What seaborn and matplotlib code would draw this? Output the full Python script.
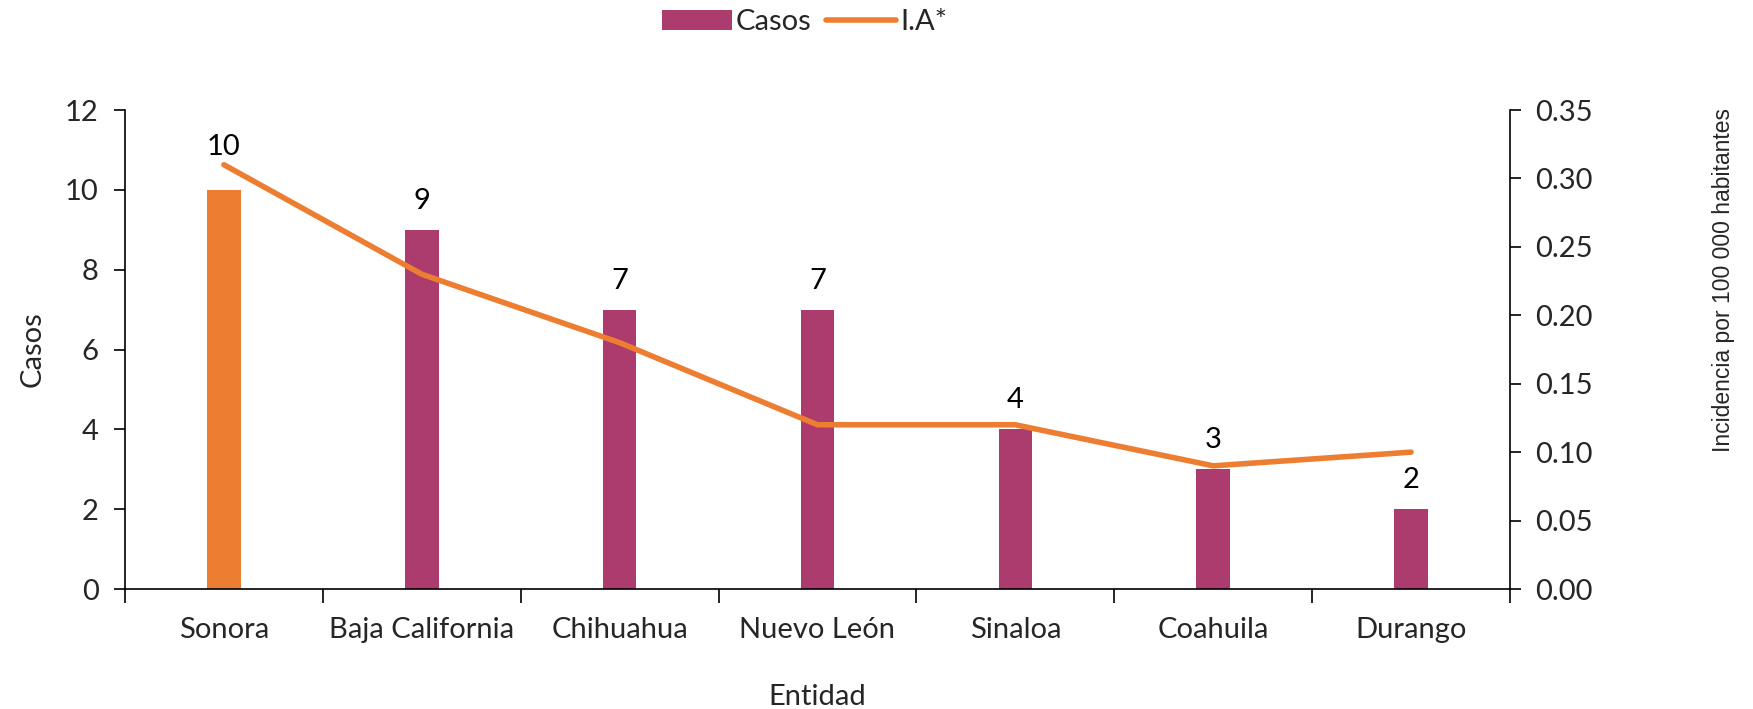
import numpy as np
import matplotlib
matplotlib.use("Agg")
import matplotlib.pyplot as plt
from matplotlib.patches import Patch
from matplotlib.lines import Line2D
from matplotlib.ticker import FixedLocator
import seaborn as sns

entidades = ["Sonora", "Baja California", "Chihuahua", "Nuevo León", "Sinaloa", "Coahuila", "Durango"]
casos = [10, 9, 7, 7, 4, 3, 2]
ia = [0.31, 0.23, 0.18, 0.12, 0.12, 0.09, 0.10]
left_ticks = [0, 2, 4, 6, 8, 10, 12]
right_ticks = [0.00, 0.05, 0.10, 0.15, 0.20, 0.25, 0.30, 0.35]

PURPLE = "#AD3C6E"
ORANGE = "#ED7D31"
bar_colors = [ORANGE] + [PURPLE] * (len(entidades) - 1)

sns.set_theme(style="white")
plt.rcParams["font.family"] = ["Lato", "DejaVu Sans"]

fig = plt.figure(figsize=(17.53, 7.09), dpi=100)
ax = fig.add_axes([125/1753, 1-589/709, (1510-125)/1753, (589-110)/709])

sns.barplot(x=entidades, y=casos, hue=entidades, palette=bar_colors, legend=False,
            width=0.17, ax=ax, saturation=1, edgecolor="none")

fs = 21
for i, v in enumerate(casos):
    off = 0.75 if i == 0 else 0.4
    ax.text(i, v + off, str(v), ha="center", va="bottom", fontsize=fs, color="black")

ax.set_ylim(0, 12)
ax.set_xlim(-0.5, len(entidades) - 0.5)
ax.set_yticks(left_ticks)
ax.set_yticklabels([str(t) for t in left_ticks], fontsize=fs)
ax.tick_params(axis="y", direction="out", length=8, width=1.2, color="black", left=True, pad=11)
ax.tick_params(axis="x", which="major", length=0, labelsize=fs, pad=20)
ax.xaxis.set_minor_locator(FixedLocator(np.arange(-0.5, len(entidades), 1.0)))
ax.tick_params(axis="x", which="minor", direction="out", length=10, width=1.2, color="black", bottom=True)
for s in ["top", "right"]:
    ax.spines[s].set_visible(False)
for s in ["left", "bottom"]:
    ax.spines[s].set_color("black")
    ax.spines[s].set_linewidth(1.2)
ax.set_xlabel("Entidad", fontsize=fs, labelpad=30)
ax.set_ylabel("Casos", fontsize=fs, labelpad=14)

ax2 = ax.twinx()
xpos = np.arange(len(entidades))
sns.lineplot(x=xpos, y=ia, color=ORANGE, linewidth=4, ax=ax2, solid_capstyle="round")
ax2.set_ylim(0, 0.35)
ax2.set_yticks(right_ticks)
ax2.set_yticklabels([f"{t:.2f}" for t in right_ticks], fontsize=fs)
ax2.tick_params(axis="y", direction="out", length=8, width=1.2, color="black", right=True, pad=10)
for s in ["top", "left", "bottom"]:
    ax2.spines[s].set_visible(False)
ax2.spines["right"].set_color("black")
ax2.spines["right"].set_linewidth(1.2)
ax2.set_ylabel("Incidencia por 100 000 habitantes", fontsize=16.5,
               family=["Liberation Sans", "DejaVu Sans"])
ax2.yaxis.set_label_coords(1.146, 0.646)
ax.set_xlim(-0.5, len(entidades) - 0.5)

handles = [Patch(facecolor=PURPLE, edgecolor="none", label="Casos"),
           Line2D([0], [0], color=ORANGE, linewidth=4, label="I.A*")]
fig.legend(handles=handles, loc="center", bbox_to_anchor=(0.459, 1-22/709), ncol=2, frameon=False,
           fontsize=fs, handlelength=2.4, handletextpad=0.15, columnspacing=0.5)

fig.savefig("out.png", dpi=100, facecolor="white")
